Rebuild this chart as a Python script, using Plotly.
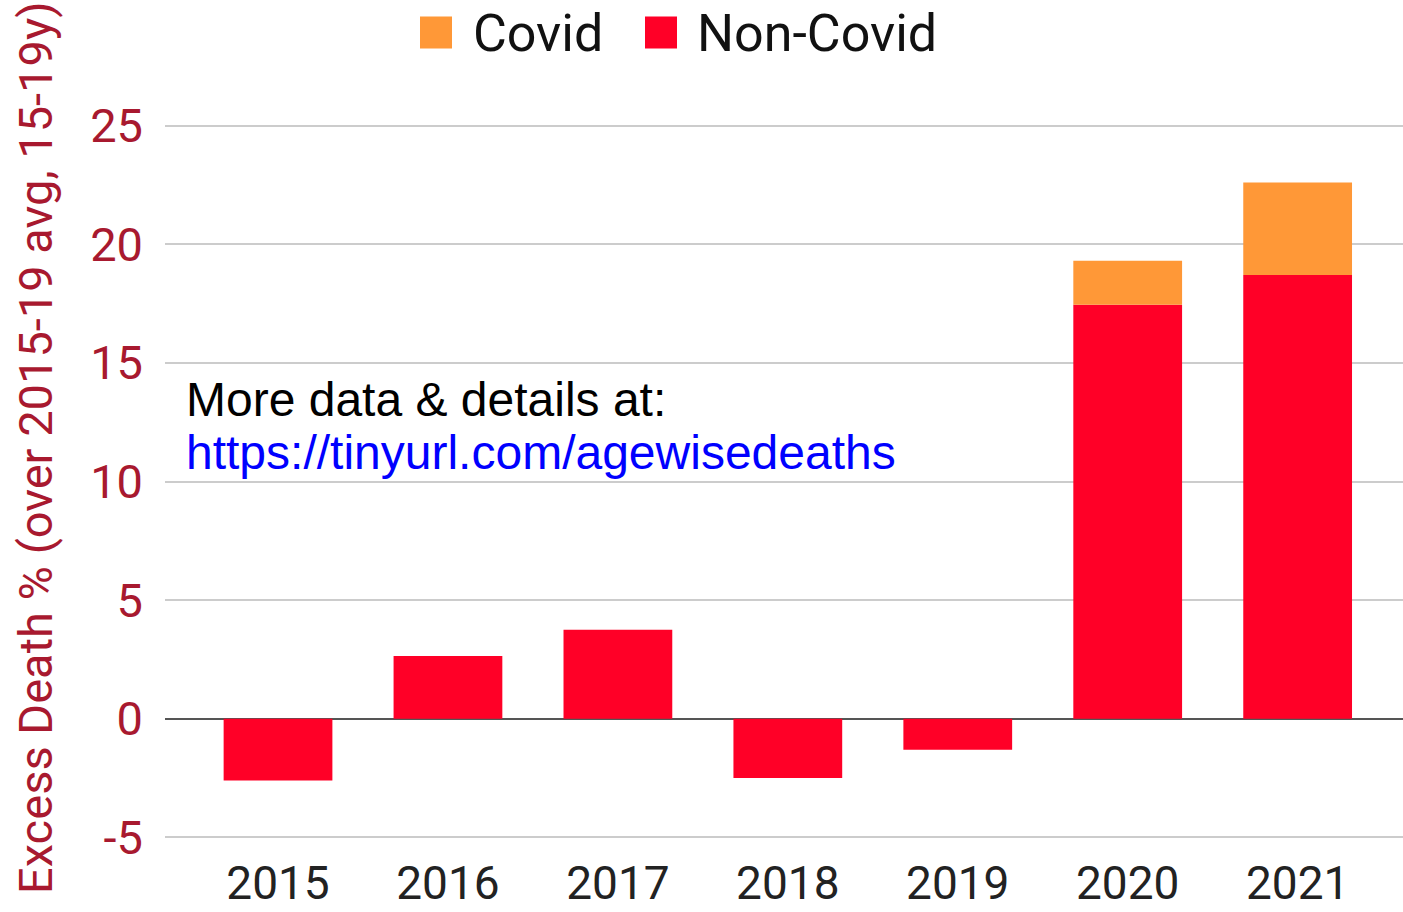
import plotly.graph_objects as go

years = ["2015", "2016", "2017", "2018", "2019", "2020", "2021"]
non_covid = [-2.6, 2.65, 3.75, -2.5, -1.3, 17.45, 18.7]
covid = [0, 0, 0, 0, 0, 1.85, 3.9]
y_ticks = [-5, 0, 5, 10, 15, 20, 25]
y_tick_text = ["-5", "0", "5", "10", "15", "20", "25"]
legend_names = ["Covid", "Non-Covid"]

RED = "#ff0027"
ORANGE = "#ff9837"
AXIS_RED = "#a8192f"

W, H = 1403, 912
# y = 25 sits at pixel 126 and y = -5 at pixel 837; pad range a little so edge gridlines show
PAD = 0.15
PXU = (837 - 126) / 30.0
L, R = 165, 0
T = 126 - PAD * PXU
B = H - (837 + PAD * PXU)
PW, PH = W - L - R, H - T - B


def px_x(x):
    return (x - L) / PW


def px_y(y):
    return (H - B - y) / PH


fig = go.Figure()
fig.add_trace(go.Bar(x=years, y=non_covid, name="Non-Covid", marker_color=RED,
                     marker_line_width=0, width=0.64, showlegend=False))
fig.add_trace(go.Bar(x=years, y=covid, name="Covid", marker_color=ORANGE,
                     marker_line_width=0, width=0.64, showlegend=False))

fig.update_layout(
    barmode="relative",
    width=W, height=H,
    margin=dict(l=L, r=R, t=T, b=B, autoexpand=False),
    plot_bgcolor="white", paper_bgcolor="white",
    font=dict(family="Roboto", size=46, color="#222222"),
    showlegend=False,
)

fig.update_xaxes(type="category", range=[-0.665, 6.62], showgrid=False, showline=False,
                 ticks="", tickfont=dict(size=46, color="#222222"), ticklabelstandoff=11,
                 automargin=False)
fig.update_yaxes(range=[-5 - PAD, 25 + PAD], tickvals=y_ticks, ticktext=y_tick_text,
                 showgrid=True, gridcolor="#cccccc",
                 gridwidth=2, zeroline=True, zerolinecolor="#555555", zerolinewidth=2,
                 showline=False, ticks="", tickfont=dict(size=47, color=AXIS_RED),
                 ticklabelstandoff=21, automargin=False)

# Y axis title
fig.add_annotation(text="Excess Death % (over 2015-19 avg, 15-19y)", textangle=-90,
                   xref="paper", yref="paper", x=px_x(36), y=px_y(448),
                   xanchor="center", yanchor="middle", showarrow=False,
                   font=dict(family="Roboto", size=47, color=AXIS_RED))

# Note text
fig.add_annotation(text="More data & details at:",
                   xref="paper", yref="paper", x=px_x(184), y=px_y(400),
                   xanchor="left", yanchor="middle", align="left", showarrow=False,
                   font=dict(family="Liberation Sans", size=48, color="#000000"))
fig.add_annotation(text="https://tinyurl.com/agewisedeaths",
                   xref="paper", yref="paper", x=px_x(184), y=px_y(453),
                   xanchor="left", yanchor="middle", align="left", showarrow=False,
                   font=dict(family="Liberation Sans", size=48, color="#0000ff"))

# Manual legend (large square swatches)
legend_colors = [ORANGE, RED]
sw_left = [420, 645]
txt_left = [471, 695]
for name, col, sx, tx in zip(legend_names, legend_colors, sw_left, txt_left):
    fig.add_shape(type="rect", xref="paper", yref="paper",
                  x0=px_x(sx), x1=px_x(sx + 32), y0=px_y(49), y1=px_y(17),
                  fillcolor=col, line_width=0)
    fig.add_annotation(text=name, xref="paper", yref="paper", x=px_x(tx), y=px_y(34),
                       xanchor="left", yanchor="middle", showarrow=False,
                       font=dict(family="Roboto", size=52, color="#111111"))

fig.write_html("out.html", config={"displayModeBar": False},
               post_script="document.body.style.margin='0';")
